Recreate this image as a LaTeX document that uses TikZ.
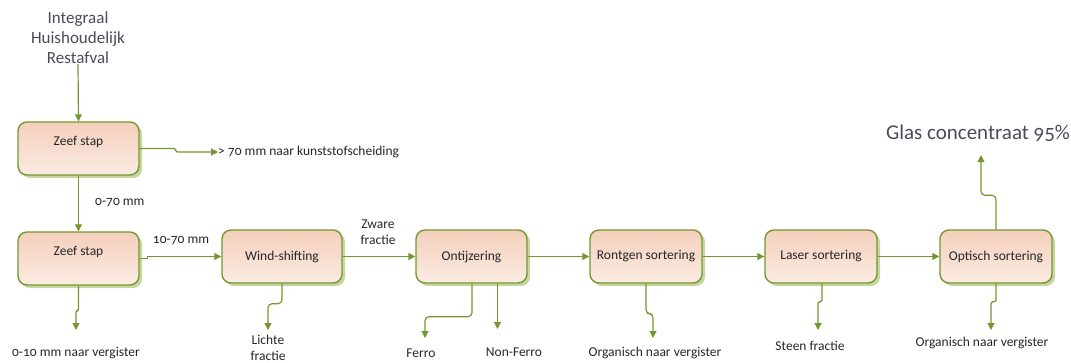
\documentclass[tikz,border=0pt]{standalone}
\usepackage{fontspec}
\setmainfont{Carlito}[Numbers=OldStyle]
\usetikzlibrary{arrows.meta,shadows}
\definecolor{stapline}{HTML}{74982F}
\definecolor{stapshadow}{HTML}{C6D7A2}
\definecolor{staptop}{HTML}{F4CFBC}
\definecolor{stapbottom}{HTML}{FBEBE2}
\definecolor{staptext}{HTML}{262626}
\definecolor{kopgrijs}{HTML}{4A4A5C}
\tikzset{
  stap/.style={draw=stapline,line width=1.4pt,rounded corners=9pt,
    top color=staptop,bottom color=stapbottom,minimum height=53pt,
    text=staptext,font=\fontsize{13.5}{15}\selectfont,
    drop shadow={shadow xshift=3pt,shadow yshift=-3pt,fill=stapshadow,opacity=1}},
  stroom/.style={draw=stapline,line width=1.2pt,rounded corners=4pt,
    -{Triangle[length=7pt,width=7pt]}},
  knik/.style={rounded corners=1.5pt},
  uitvoer/.style={text=staptext,font=\fontsize{13.5}{16}\selectfont,
    align=center,inner sep=0pt}
}
\begin{document}
\begin{tikzpicture}[x=1pt,y=-1pt]
  \useasboundingbox (0,0) rectangle (1071,362);
  % processtappen
  \node[stap,minimum width=121pt,text depth=16pt] (zeef1) at (78.5,148.5) {Zeef stap};
  \node[stap,minimum width=121pt,text depth=16pt] (zeef2) at (78.5,258.5) {Zeef stap};
  \node[stap,minimum width=120pt] (wind) at (282,256.5) {Wind-shifting};
  \node[stap,minimum width=111pt] (ijzer) at (471.5,256.5) {Ontijzering};
  \node[stap,minimum width=112pt] (rontgen) at (646,256.5) {Rontgen sortering};
  \node[stap,minimum width=112pt] (laser) at (821,256.5) {Laser sortering};
  \node[stap,minimum width=112pt] (optisch) at (996,256.5) {Optisch sortering};
  % teksten
  \node[text=kopgrijs,font=\fontsize{17}{20}\selectfont,align=center,inner sep=0pt] (invoer) at (78,38) {Integraal\\Huishoudelijk\\Restafval};
  \node[uitvoer,anchor=west] (kunst) at (218,152) {> 70 mm naar kunststofscheiding};
  \node[uitvoer,anchor=west] (fijn) at (95,203) {0-70 mm};
  \node[uitvoer] (vergist1) at (76,353) {0-10 mm naar vergister};
  \node[uitvoer] (middel) at (181,241) {10-70 mm};
  \node[uitvoer] (licht) at (268,348) {Lichte\\fractie};
  \node[uitvoer] (zwaar) at (378,232) {Zware\\fractie};
  \node[uitvoer] (ferro) at (421,353) {Ferro};
  \node[uitvoer] (nonferro) at (514,352) {Non-Ferro};
  \node[uitvoer] (vergist2) at (655,353) {Organisch naar vergister};
  \node[uitvoer] (steen) at (810,346) {Steen fractie};
  \node[uitvoer] (vergist3) at (982,343) {Organisch naar vergister};
  \node[text=kopgrijs,font=\fontsize{21}{24}\selectfont,inner sep=0pt] (glas) at (978,133) {Glas concentraat 95\%};
  % vrije eindpunten
  \coordinate (e1) at (76,330);
  \coordinate (e2) at (268,330);
  \coordinate (e3) at (425,338);
  \coordinate (e4) at (497.5,329);
  \coordinate (e5) at (653,338);
  \coordinate (e6) at (818,330);
  \coordinate (e7) at (981,155);
  \coordinate (e8) at (991,330);
  % stromen
  \draw[stroom] (invoer.south) -- (zeef1.north);
  \draw[stroom,knik] (zeef1.east) -- ++(36,0) |- (kunst.west);
  \draw[stroom] (zeef1.south) -- (zeef2.north);
  \draw[stroom,knik] (zeef2.south) -- ++(0,25) -| (e1);
  \draw[stroom,sharp corners] (zeef2.east) -- ++(8,0) |- (wind.west);
  \draw[stroom] (wind.south) -- ++(0,20) -| (e2);
  \draw[stroom] (wind.east) -- (ijzer.west);
  \draw[stroom] (ijzer.south) ++(0.5,0) -- ++(0,33) -| (e3);
  \draw[stroom] (ijzer.south) ++(26,0) -- (e4);
  \draw[stroom] (ijzer.east) -- (rontgen.west);
  \draw[stroom] (rontgen.south) -- ++(0,30) -| (e5);
  \draw[stroom] (rontgen.east) -- (laser.west);
  \draw[stroom,knik] (laser.south) ++(1,0) -- ++(0,18) -| (e6);
  \draw[stroom] (laser.east) -- (optisch.west);
  \draw[stroom] (optisch.north) -- ++(0,-34) -| (e7);
  \draw[stroom,knik] (optisch.south) -- ++(0,18) -| (e8);
\end{tikzpicture}
\end{document}
